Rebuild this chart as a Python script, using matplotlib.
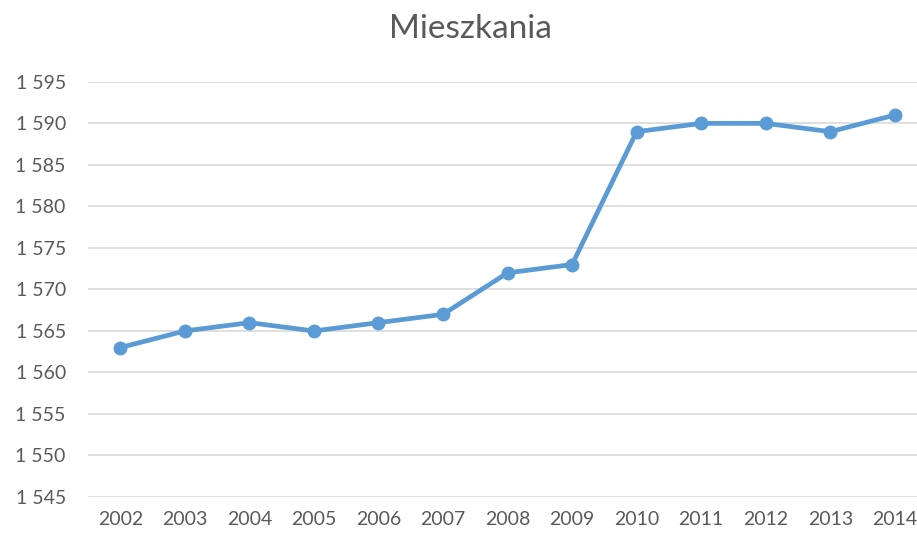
import matplotlib.pyplot as plt
from matplotlib.ticker import FuncFormatter

# data
years = ['2002', '2003', '2004', '2005', '2006', '2007', '2008',
         '2009', '2010', '2011', '2012', '2013', '2014']
mieszkania = [1563, 1565, 1566, 1565, 1566, 1567, 1572,
              1573, 1589, 1590, 1590, 1589, 1591]
y_ticks = list(range(1545, 1600, 5))

plt.rcParams['font.family'] = ['Lato', 'DejaVu Sans']

fig = plt.figure(figsize=(9.17, 5.35), dpi=100)
ax = fig.add_axes([0.096, 0.071, 0.915, 0.776])

x = range(len(years))
ax.plot(x, mieszkania, color='#5B9BD5', lw=3.4, marker='o', ms=9,
        solid_capstyle='round', zorder=3)

ax.set_xlim(-0.5, len(years) - 0.5)
ax.set_ylim(1545, 1595)
ax.set_yticks(y_ticks)
ax.yaxis.set_major_formatter(FuncFormatter(lambda v, p: f'{int(v):,}'.replace(',', ' ')))
ax.set_xticks(list(x))
ax.set_xticklabels(years)

ax.grid(axis='y', color='#D9D9D9', lw=1.2)
ax.set_axisbelow(True)
for s in ax.spines.values():
    s.set_visible(False)
ax.tick_params(length=0, colors='#595959', labelsize=14)
ax.tick_params(axis='y', pad=16)
ax.tick_params(axis='x', pad=10)

fig.text(0.513, 0.945, 'Mieszkania', ha='center', va='center',
         fontsize=24, color='#595959')

fig.savefig('out.png', dpi=100)
